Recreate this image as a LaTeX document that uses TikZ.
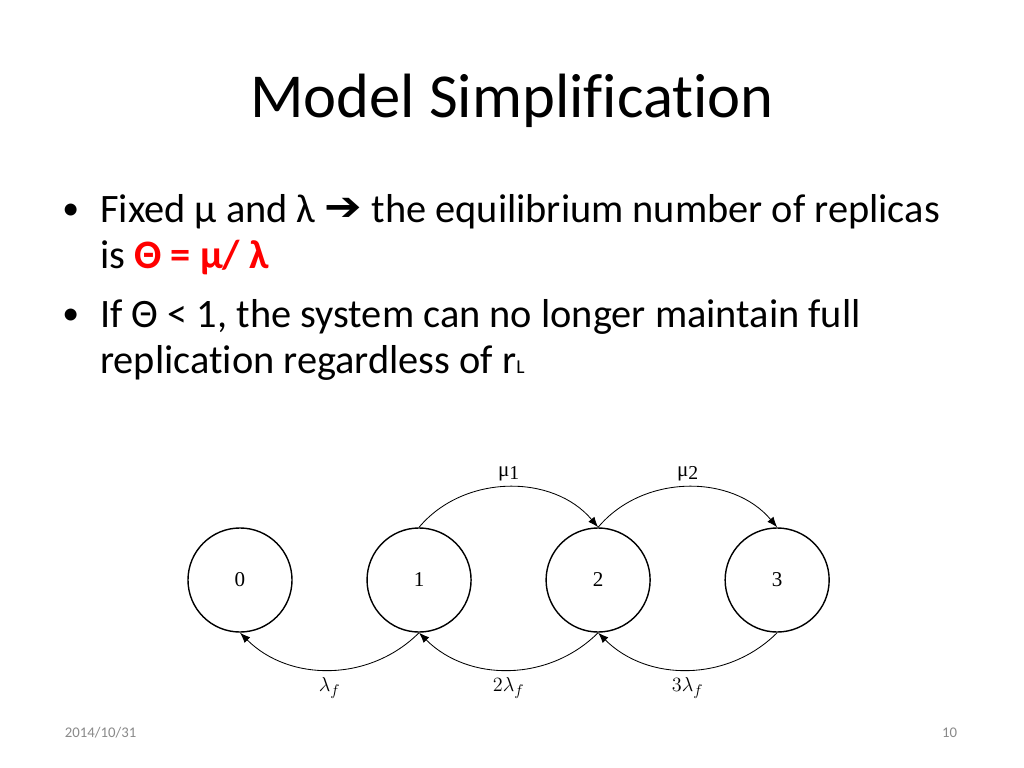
\documentclass[tikz,border=0pt]{standalone}
\usepackage{fontspec}
\setmainfont{Carlito}[Ligatures={NoCommon}]
\newfontfamily\symfont{DejaVu Sans}
\newfontfamily\figfont{Liberation Serif}
\usetikzlibrary{positioning, arrows.meta}
\usepackage{xcolor}
\definecolor{slidered}{RGB}{255,0,0}
\definecolor{footgray}{RGB}{137,137,137}

\begin{document}
\begin{tikzpicture}[
    x=0.025cm, y=-0.025cm,
    node distance=1.84cm,
    state/.style={
        draw,
        circle,
        line width=1pt,
        minimum size=2.6cm,
        inner sep=0pt,
        font=\figfont\fontsize{15}{15}\selectfont
    },
    bullet/.style={
        anchor=base west,
        inner sep=0pt,
        font=\fontsize{28.7}{34}\selectfont
    },
    rate/.style={
        font=\figfont\fontsize{15}{15}\selectfont
    },
    arr/.style={
        -{Latex[length=2.6mm, width=2mm]},
        line width=0.6pt
    }
]
\useasboundingbox (0,0) rectangle (1024,768);

% Title
\node[font=\fontsize{44.5}{50}\selectfont, anchor=base] (title) at (512,118)
{Model Simplification};

% Bullets
\node[bullet, font=\fontsize{24}{24}\selectfont] (dot1) at (62,219) {•};
\node[bullet] (line1) at (100,222)
{Fixed μ and λ \raisebox{1pt}{\scalebox{1.45}[1.3]{\symfont\bfseries\fontsize{22}{22}\selectfont ➔}} the equilibrium number of replicas};
\node[bullet] (line2) at (100,268)
{is \textcolor{slidered}{\bfseries Θ = μ/ λ}};
\node[bullet, font=\fontsize{24}{24}\selectfont] (dot2) at (62,324) {•};
\node[bullet] (line3) at (100,327)
{If Θ < 1, the system can no longer maintain full};
\node[bullet] (line4) at (100,373)
{replication regardless of r{\fontsize{14}{14}\selectfont L}};

% Chain of states
\node[state] (s0) at (240,580) {0};
\node[state, right=of s0] (s1) {1};
\node[state, right=of s1] (s2) {2};
\node[state, right=of s2] (s3) {3};

% Repair arcs
\draw[arr] (s1.north) to[bend left=50]
node[rate, above=1pt] {μ\raisebox{-2.5pt}{\fontsize{14}{14}\selectfont 1}} (s2.north);
\draw[arr] (s2.north) to[bend left=50]
node[rate, above=1pt] {μ\raisebox{-2.5pt}{\fontsize{14}{14}\selectfont 2}} (s3.north);

% Failure arcs
\draw[arr] (s1.south) to[bend left=45]
node[rate, below=2pt] {$\lambda_f$} (s0.south);
\draw[arr] (s2.south) to[bend left=45]
node[rate, below=2pt] {$2\lambda_f$} (s1.south);
\draw[arr] (s3.south) to[bend left=45]
node[rate, below=2pt] {$3\lambda_f$} (s2.south);

% Footer
\node[font=\fontsize{10.5}{12}\selectfont, text=footgray, anchor=base west]
(date) at (60,737) {2014/10/31};
\node[font=\fontsize{10.5}{12}\selectfont, text=footgray, anchor=base east]
(page) at (962,737) {10};

\end{tikzpicture}
\end{document}
